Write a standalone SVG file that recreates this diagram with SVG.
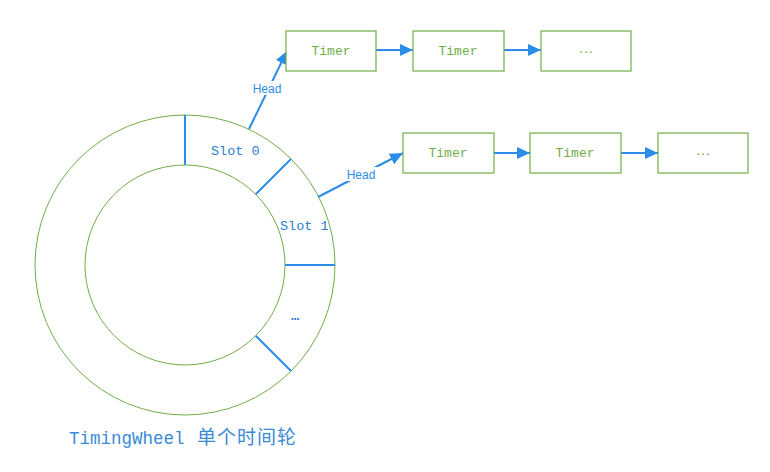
<svg xmlns="http://www.w3.org/2000/svg" width="770" height="472" viewBox="0 0 770 472">
<defs>
<marker id="ah" viewBox="0 0 12 11" refX="12" refY="5.5" markerWidth="6.5" markerHeight="6" orient="auto" markerUnits="strokeWidth">
<path d="M0,0 L12,5.5 L0,11 z" fill="#2a8de8"/>
</marker>
<style>
.box{fill:#fff;stroke:#70ad47;stroke-width:1.2}
.ring{fill:none;stroke:#70ad47;stroke-width:1}
.div{stroke:#2a8de8;stroke-width:2}
.con{stroke:#2a8de8;stroke-width:2;fill:none}
.tm{font-family:"Liberation Mono","DejaVu Sans Mono",monospace;font-size:13px;fill:#70ad47;text-anchor:middle}
.el{font-family:"Liberation Sans",Arial,sans-serif;font-size:15px;fill:#70ad47;text-anchor:middle}
.sl{font-family:"Liberation Mono","DejaVu Sans Mono",monospace;font-size:13.5px;fill:#2a7fd0}
.hd{font-family:"Liberation Sans",Arial,sans-serif;font-size:12px;fill:#2a8de8;text-anchor:middle}
.tt{font-family:"Liberation Mono","Noto Sans CJK SC",monospace;font-size:17.5px;fill:#3a8ad6}
.cj{font-family:"Noto Sans CJK SC",sans-serif;font-size:19px}
</style>
</defs>
<g id="wheel">
<circle class="ring" cx="185" cy="265" r="150"/>
<circle class="ring" cx="185" cy="265" r="100"/>
<line class="div" x1="185" y1="115" x2="185" y2="165"/>
<line class="div" x1="255.7" y1="194.3" x2="291" y2="159"/>
<line class="div" x1="285" y1="265" x2="335" y2="265"/>
<line class="div" x1="255.7" y1="335.7" x2="291" y2="371"/>
<text class="sl" x="211" y="155">Slot 0</text>
<text class="sl" x="280" y="230">Slot 1</text>
<text class="sl" x="291" y="320" font-size="16" font-weight="bold">…</text>
<text class="tt" x="69" y="444">TimingWheel <tspan class="cj" x="197" letter-spacing="1">单个时间轮</tspan></text>
</g>
<g id="connectors">
<line class="con" x1="249" y1="129" x2="287" y2="51" marker-end="url(#ah)"/>
<line class="con" x1="376" y1="50" x2="413" y2="50" marker-end="url(#ah)"/>
<line class="con" x1="504" y1="50" x2="541" y2="50" marker-end="url(#ah)"/>
<line class="con" x1="318" y1="197" x2="403" y2="153" marker-end="url(#ah)"/>
<line class="con" x1="494" y1="153" x2="530" y2="153" marker-end="url(#ah)"/>
<line class="con" x1="621" y1="153" x2="658" y2="153" marker-end="url(#ah)"/>
<rect x="250" y="81" width="34" height="14" fill="#fff"/>
<text class="hd" x="267" y="93">Head</text>
<rect x="343" y="167" width="36" height="14" fill="#fff"/>
<text class="hd" x="361" y="179">Head</text>
</g>
<g id="t1"><rect class="box" x="286" y="31" width="90" height="40"/><text class="tm" x="331" y="55">Timer</text></g>
<g id="t2"><rect class="box" x="413" y="31" width="91" height="40"/><text class="tm" x="458" y="55">Timer</text></g>
<g id="t3"><rect class="box" x="541" y="31" width="90" height="40"/><text class="el" x="586" y="53">…</text></g>
<g id="t4"><rect class="box" x="403" y="133" width="91" height="40"/><text class="tm" x="448" y="157">Timer</text></g>
<g id="t5"><rect class="box" x="530" y="133" width="91" height="40"/><text class="tm" x="575" y="157">Timer</text></g>
<g id="t6"><rect class="box" x="658" y="133" width="90" height="40"/><text class="el" x="703" y="155">…</text></g>
</svg>
